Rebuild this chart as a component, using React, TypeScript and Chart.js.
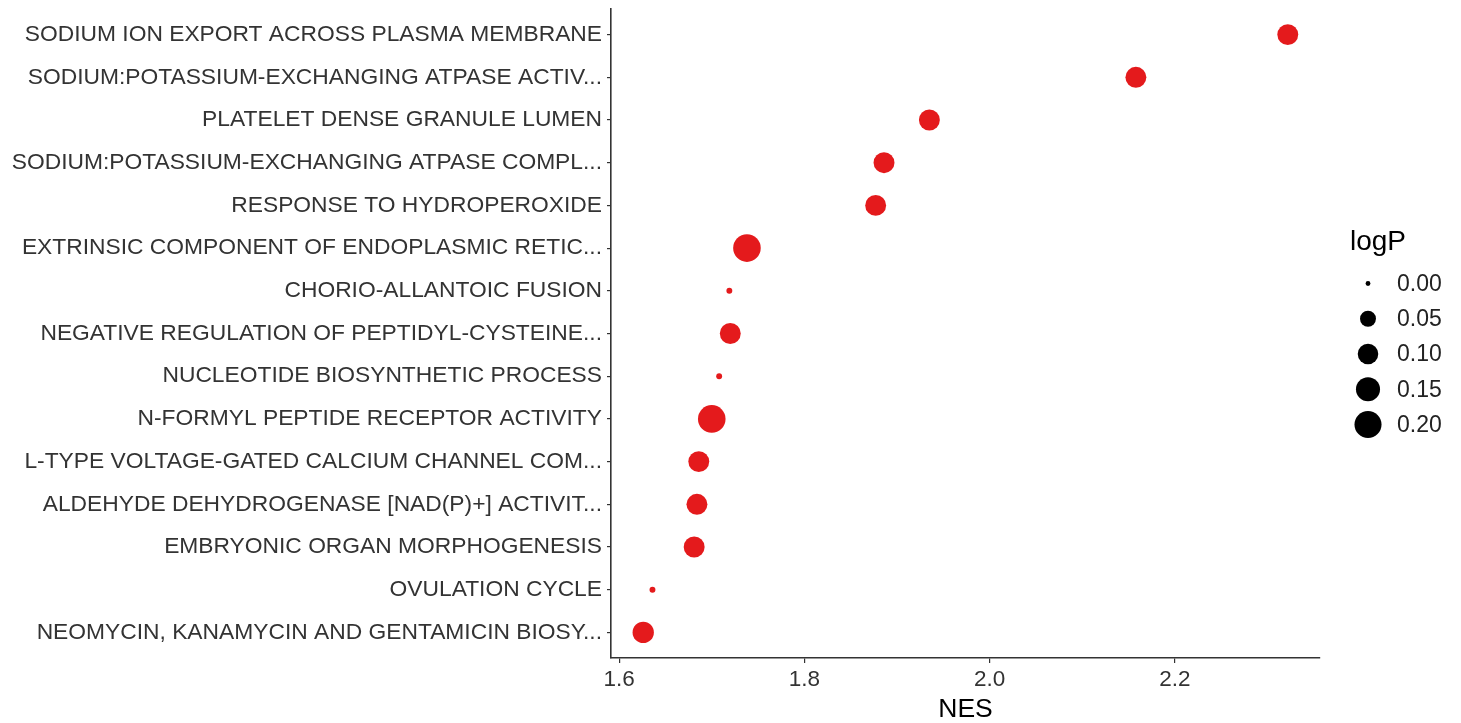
import React, { useEffect, useRef } from "react";
import { Chart, registerables } from "chart.js";

Chart.register(...registerables);

const categories: string[] = [
  "SODIUM ION EXPORT ACROSS PLASMA MEMBRANE",
  "SODIUM:POTASSIUM-EXCHANGING ATPASE ACTIV...",
  "PLATELET DENSE GRANULE LUMEN",
  "SODIUM:POTASSIUM-EXCHANGING ATPASE COMPL...",
  "RESPONSE TO HYDROPEROXIDE",
  "EXTRINSIC COMPONENT OF ENDOPLASMIC RETIC...",
  "CHORIO-ALLANTOIC FUSION",
  "NEGATIVE REGULATION OF PEPTIDYL-CYSTEINE...",
  "NUCLEOTIDE BIOSYNTHETIC PROCESS",
  "N-FORMYL PEPTIDE RECEPTOR ACTIVITY",
  "L-TYPE VOLTAGE-GATED CALCIUM CHANNEL COM...",
  "ALDEHYDE DEHYDROGENASE [NAD(P)+] ACTIVIT...",
  "EMBRYONIC ORGAN MORPHOGENESIS",
  "OVULATION CYCLE",
  "NEOMYCIN, KANAMYCIN AND GENTAMICIN BIOSY...",
];

const nes: number[] = [
  2.322, 2.158, 1.935, 1.886, 1.877, 1.738, 1.719, 1.72, 1.708, 1.7, 1.686,
  1.684, 1.681, 1.636, 1.626,
];

const logP: number[] = [
  0.105, 0.105, 0.105, 0.105, 0.105, 0.21, 0.0005, 0.105, 0.0005, 0.21, 0.105,
  0.105, 0.105, 0.0005, 0.11,
];

const xTicks: number[] = [1.6, 1.8, 2.0, 2.2];
const legendValues: number[] = [0.0, 0.05, 0.1, 0.15, 0.2];
const legendLabels: string[] = ["0.00", "0.05", "0.10", "0.15", "0.20"];

const FONT = "'Liberation Sans', Arial, Helvetica, sans-serif";
const SIZE_DOMAIN = [0, 0.21];
const R_MIN = 2.4;
const R_SPAN = 11.4;

function radiusFor(v: number): number {
  const t = Math.max(0, Math.min(1, (v - SIZE_DOMAIN[0]) / (SIZE_DOMAIN[1] - SIZE_DOMAIN[0])));
  return R_MIN + R_SPAN * Math.sqrt(t);
}

const sizeLegendPlugin = {
  id: "sizeLegend",
  afterDraw(chart: any) {
    const { ctx, chartArea } = chart;
    const x0 = chartArea.right;
    ctx.save();
    ctx.fillStyle = "#000";
    ctx.font = `28px ${FONT}`;
    ctx.textAlign = "left";
    ctx.textBaseline = "alphabetic";
    ctx.fillText("logP", x0 + 30, 250);
    const cx = x0 + 48;
    const tx = x0 + 77;
    const y0 = 283.5;
    const step = 35.25;
    legendValues.forEach((v, i) => {
      const cy = y0 + i * step;
      ctx.beginPath();
      ctx.fillStyle = "#000";
      ctx.arc(cx, cy, radiusFor(v), 0, Math.PI * 2);
      ctx.fill();
      ctx.fillStyle = "#222";
      ctx.font = `23px ${FONT}`;
      ctx.textBaseline = "middle";
      ctx.fillText(legendLabels[i], tx, cy + 1);
    });
    ctx.restore();
  },
};

export default function App() {
  const canvasRef = useRef<HTMLCanvasElement | null>(null);

  useEffect(() => {
    const canvas = canvasRef.current;
    if (!canvas) return;
    const points = categories.map((c, i) => ({ x: nes[i], y: i, logP: logP[i] }));
    const chart = new Chart(canvas, {
      type: "scatter",
      data: {
        datasets: [
          {
            label: "NES",
            data: points as any,
            backgroundColor: "#E41A1C",
            borderWidth: 0,
            pointRadius: (c: any) => radiusFor(c.raw ? c.raw.logP : 0),
            pointHoverRadius: (c: any) => radiusFor(c.raw ? c.raw.logP : 0),
            pointBorderWidth: 0,
          },
        ],
      },
      options: {
        animation: false,
        responsive: false,
        devicePixelRatio: 1,
        layout: { autoPadding: false, padding: { top: 9, right: 141, left: 0, bottom: 0 } },
        plugins: {
          legend: { display: false },
          tooltip: { enabled: false },
        },
        scales: {
          x: {
            type: "linear",
            min: 1.5912,
            max: 2.3568,
            afterFit: (s: any) => {
              s.height = 65;
              s.paddingLeft = 0;
              s.paddingRight = 0;
            },
            afterBuildTicks: (s: any) => {
              s.ticks = xTicks.map((v) => ({ value: v }));
            },
            ticks: {
              callback: (v: any) => Number(v).toFixed(1),
              font: { family: FONT, size: 22.5 },
              color: "#333",
              padding: 3,
              maxRotation: 0,
              autoSkip: false,
            },
            grid: {
              drawOnChartArea: false,
              drawTicks: true,
              tickLength: 5,
              color: "#333",
              lineWidth: 1.2,
            },
            border: { display: true, color: "#333", width: 1.6 },
            title: {
              display: true,
              text: "NES",
              color: "#000",
              font: { family: FONT, size: 26.5, lineHeight: 1 },
              padding: { top: 0, bottom: 0 },
            },
          },
          y: {
            type: "linear",
            min: -0.6,
            max: 14.6,
            reverse: true,
            afterFit: (s: any) => {
              s.width = 611;
              s.paddingTop = 0;
              s.paddingBottom = 0;
            },
            afterBuildTicks: (s: any) => {
              s.ticks = categories.map((_, i) => ({ value: i }));
            },
            ticks: {
              callback: (v: any) => categories[Math.round(Number(v))] ?? "",
              font: { family: FONT, size: 22.8 },
              color: "#333",
              padding: 5,
              autoSkip: false,
            },
            grid: {
              drawOnChartArea: false,
              drawTicks: true,
              tickLength: 4,
              color: "#333",
              lineWidth: 1.2,
            },
            border: { display: true, color: "#333", width: 1.6 },
          },
        },
      },
      plugins: [sizeLegendPlugin],
    });
    return () => chart.destroy();
  }, []);

  return (
    <div style={{ position: "absolute", left: 0, top: 0, width: 1461, height: 723, background: "#fff" }}>
      <canvas ref={canvasRef} width={1461} height={723} />
    </div>
  );
}
